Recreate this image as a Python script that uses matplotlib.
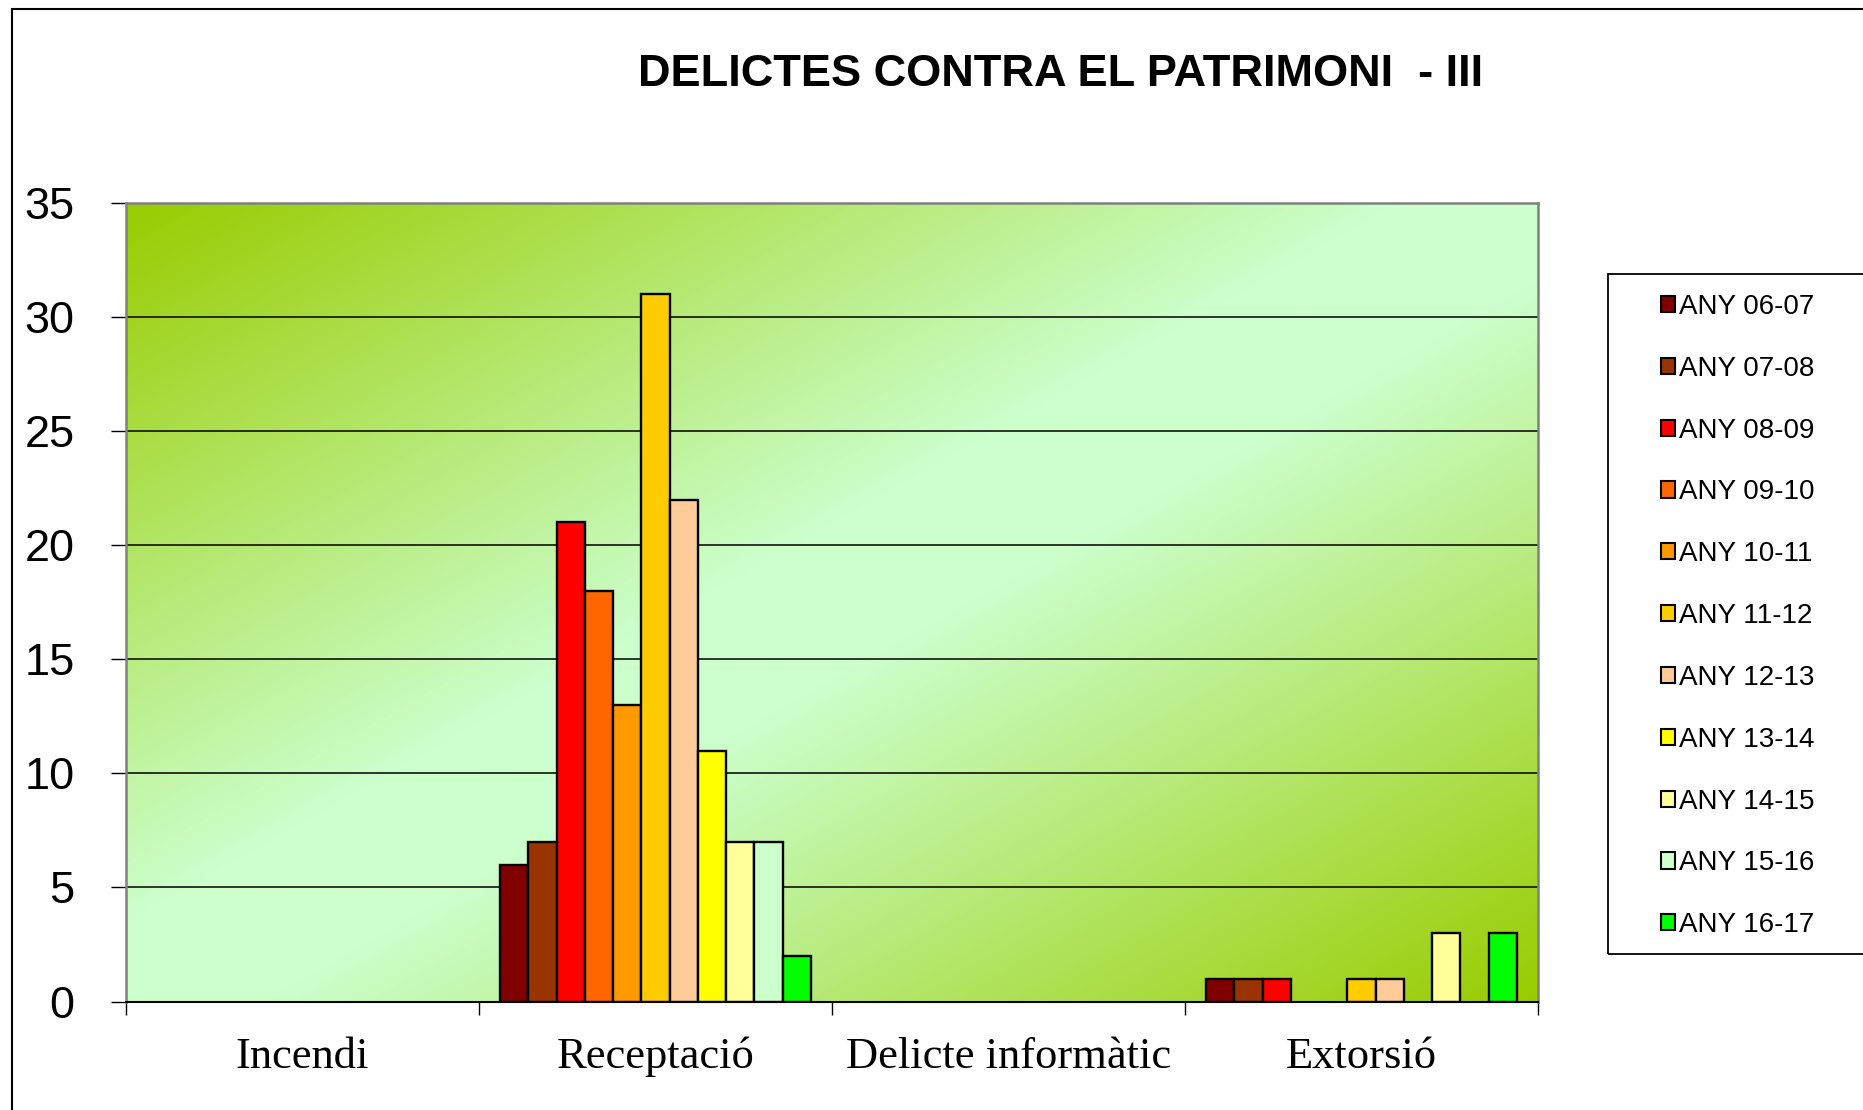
"""Delictes contra el patrimoni - III: grouped bar chart with gradient plot area."""
import numpy as np
import matplotlib
matplotlib.use("Agg")
import matplotlib.pyplot as plt
from matplotlib.colors import LinearSegmentedColormap
from matplotlib.patches import Rectangle

categories = ["Incendi", "Receptació", "Delicte informàtic", "Extorsió"]
years = ["ANY 06-07", "ANY 07-08", "ANY 08-09", "ANY 09-10", "ANY 10-11", "ANY 11-12",
         "ANY 12-13", "ANY 13-14", "ANY 14-15", "ANY 15-16", "ANY 16-17"]
incendi = [0, 0, 0, 0, 0, 0, 0, 0, 0, 0, 0]
receptacio = [6, 7, 21, 18, 13, 31, 22, 11, 7, 7, 2]
delicte_informatic = [0, 0, 0, 0, 0, 0, 0, 0, 0, 0, 0]
extorsio = [1, 1, 1, 0, 0, 1, 1, 0, 3, 0, 3]
year_colors = ["#800000", "#993300", "#FF0000", "#FF6600", "#FF9900", "#FFCC00",
               "#FFCC99", "#FFFF00", "#FFFF99", "#CCFFCC", "#00FF00"]

values = np.array([incendi, receptacio, delicte_informatic, extorsio])  # category x year

W, H = 1863, 1110
fig = plt.figure(figsize=(W / 100, H / 100), dpi=100)
fig.patch.set_facecolor("white")

# outer chart border (right/bottom run off the picture)
fig.patches.append(Rectangle((12 / W, -0.1), 1.2, 1 - 9 / H + 0.1, transform=fig.transFigure,
                             fill=False, edgecolor="black", linewidth=1.5))

ax = fig.add_axes([126 / W, 1 - 1001.5 / H, (1538 - 126) / W, (1001.5 - 203) / H])

# diagonal gradient: dark green in top-left / bottom-right corners, pale green in the other two
gh, gw = 300, 500
u = np.linspace(0, 1, gw)[None, :]
w = np.linspace(0, 1, gh)[:, None]
t = (u + w) / 2
cmap = LinearSegmentedColormap.from_list(
    "bg", [(0.0, "#99CC00"), (0.45, "#CCFFCC"), (0.55, "#CCFFCC"), (1.0, "#99CC00")])
ax.imshow(t, cmap=cmap, vmin=0, vmax=1, extent=[0, 1, 0, 1], transform=ax.transAxes,
          aspect="auto", origin="upper", zorder=0, interpolation="bilinear")

n = len(years)
bw = 1 / 12.5
x = np.arange(len(categories))
for i, col in enumerate(year_colors):
    vals = values[:, i]
    lws = [1.7 if v > 0 else 0 for v in vals]
    ax.bar(x + (i - (n - 1) / 2) * bw, vals, width=bw, color=col, edgecolor="black",
           linewidth=lws, zorder=3)

ax.set_xlim(-0.5, 3.5)
ax.set_ylim(0, 35)
ax.set_yticks(range(0, 36, 5))
for yv in range(5, 35, 5):
    ax.axhline(yv, color="black", linewidth=1.1, zorder=1)

for side in ["top", "right", "left"]:
    ax.spines[side].set_color("#808080")
    ax.spines[side].set_linewidth(1.8)
ax.spines["bottom"].set_color("black")
ax.spines["bottom"].set_linewidth(1.5)
ax.spines["bottom"].set_zorder(4)

ax.tick_params(axis="y", direction="out", length=11, width=1, pad=26,
               labelsize=32.5, labelfontfamily="Liberation Sans")
ax.set_xticks(x)
ax.set_xticklabels(categories, fontfamily="Liberation Serif", fontsize=32)
for lbl in ax.get_xticklabels():
    lbl.set_verticalalignment("baseline")
ax.tick_params(axis="x", which="major", length=0, pad=48)
ax.set_xticks(np.arange(-0.5, 3.6, 1), minor=True)
ax.tick_params(axis="x", which="minor", direction="out", length=9, width=1)

# legend box (runs off the right edge)
fig.patches.append(Rectangle((1608 / W, 1 - 954 / H), 0.3, (954 - 274) / H,
                             transform=fig.transFigure, fill=False, edgecolor="black",
                             linewidth=1.3))
handles = [Rectangle((0, 0), 1, 1, facecolor=c, edgecolor="black", linewidth=1.5)
           for c in year_colors]
leg = fig.legend(handles, years, loc="upper left", bbox_to_anchor=(1647 / W, 1 - 280 / H),
                 frameon=False, prop={"family": "Liberation Sans", "size": 20},
                 handlelength=0.52, handleheight=0.52, handletextpad=0.12,
                 labelspacing=1.29, borderpad=0)

fig.text(1061 / W, 1 - 75 / H, "DELICTES CONTRA EL PATRIMONI  - III", ha="center",
         va="center", fontsize=32.5, fontweight="bold", fontfamily="Liberation Sans")

fig.savefig("out.png", dpi=100)
